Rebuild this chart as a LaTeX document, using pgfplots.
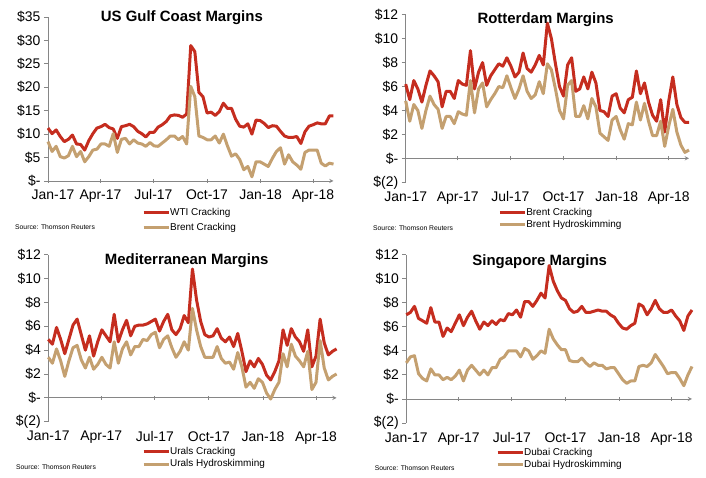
\documentclass[border=0pt]{standalone}
\usepackage{fontspec}
\setmainfont{Liberation Sans}
\usepackage{pgfplots}
\usepackage{pgfplotstable}
\pgfplotsset{compat=1.18}

\definecolor{crack}{RGB}{197,45,31}
\definecolor{skim}{RGB}{196,160,112}
\definecolor{axgray}{RGB}{134,134,134}

% weekly margins, day 0 = 1 Jan 2017
\pgfplotstableread{
day a b
0 11.3 8.4
7 10.1 6.3
14 10.9 7.4
21 9.5 5.2
28 8.4 4.9
35 8.9 5.4
42 9.8 7.4
49 7.9 5.2
56 7.8 6.3
63 6.6 4.1
70 8.6 5.2
77 10.1 6.6
84 11.3 6.8
91 11.6 7.9
98 12.1 7.9
105 11.4 7.4
112 11.1 10.1
119 9.1 6.1
126 11.6 8.9
133 11.8 9.1
140 12.1 7.9
147 11.6 8.8
154 10.6 8.1
161 10.1 7.9
168 9.4 7.4
175 10.4 8.2
182 10.4 7.5
189 11.5 7.4
196 12.0 8.1
203 12.7 8.8
210 13.9 9.6
217 14.1 9.6
224 14.0 8.8
231 13.6 9.5
238 14.3 7.9
245 28.9 20.2
252 27.6 18.0
259 18.9 9.6
266 18.0 9.3
273 14.5 8.8
280 14.7 8.8
287 14.0 9.6
294 14.8 8.1
301 16.6 10.0
308 15.5 7.5
315 15.5 5.3
322 13.2 5.8
329 11.7 4.6
336 11.5 2.4
343 12.2 3.1
350 10.0 0.9
357 13.0 4.1
364 12.9 4.1
371 12.3 3.6
378 11.4 3.1
385 11.8 4.8
392 11.7 6.3
399 10.6 7.1
406 9.6 3.6
413 9.3 5.6
420 9.3 4.1
427 9.5 3.4
434 8.0 2.5
441 10.5 6.1
448 11.7 6.6
455 12.0 6.6
462 12.4 6.6
469 12.2 3.8
476 12.2 3.2
483 13.9 3.8
490 13.9 3.6
}\gulf

\pgfplotstableread{
day a b
0 6.2 4.8
7 4.9 3.1
14 6.5 4.5
21 5.8 4.0
28 4.7 2.5
35 6.1 4.0
42 7.3 5.2
49 6.9 4.5
56 6.4 4.1
63 4.3 2.5
70 5.6 3.5
77 5.6 3.5
84 5.0 2.9
91 6.5 3.9
98 6.2 3.7
105 6.1 3.6
112 9.0 6.5
119 5.8 3.8
126 7.2 5.8
133 8.0 6.3
140 6.1 4.3
147 6.9 4.9
154 7.4 5.4
161 7.9 6.0
168 7.7 5.9
175 8.4 6.9
182 7.7 5.9
189 6.8 5.0
196 7.2 5.8
203 8.8 6.9
210 7.5 5.6
217 7.2 5.0
224 7.8 5.3
231 8.6 6.4
238 7.8 5.4
245 11.3 7.9
252 10.0 7.4
259 7.9 5.8
266 6.0 4.0
273 5.2 3.3
280 7.8 6.1
287 8.4 6.5
294 5.6 3.5
301 5.8 3.5
308 6.8 4.4
315 5.8 3.3
322 7.2 5.0
329 6.3 4.3
336 4.0 2.1
343 3.9 1.8
350 3.5 1.5
357 5.2 3.2
364 5.4 3.5
371 4.2 2.4
378 3.8 1.6
385 4.9 2.9
392 5.1 2.8
399 7.3 4.7
406 5.4 3.2
413 6.3 4.6
420 4.7 3.1
427 3.6 1.9
434 3.1 1.9
441 4.9 3.1
448 2.2 1.0
455 4.8 2.7
462 6.8 4.1
469 4.5 2.2
476 3.4 1.1
483 3.0 0.5
490 3.0 0.7
}\rotter

\pgfplotstableread{
day a b
0 4.9 3.4
7 4.5 2.9
14 5.9 4.1
21 4.9 3.1
28 3.7 1.8
35 4.9 3.1
42 6.1 4.2
49 6.6 4.4
56 5.3 3.2
63 4.0 2.5
70 5.2 3.4
77 3.5 2.4
84 4.7 2.8
91 5.7 3.4
98 5.2 2.8
105 4.7 2.5
112 7.0 4.7
119 4.7 2.9
126 5.7 4.1
133 6.5 4.7
140 5.2 3.6
147 6.0 4.3
154 6.1 4.3
161 6.1 4.9
168 6.2 4.8
175 6.4 5.3
182 6.6 5.5
189 5.6 4.2
196 6.4 4.9
203 7.0 5.2
210 5.7 4.2
217 5.3 3.4
224 5.8 3.9
231 6.9 4.7
238 6.3 4.0
245 10.8 7.5
252 8.2 5.7
259 6.4 4.3
266 5.3 3.4
273 5.1 3.4
280 5.2 3.4
287 5.8 4.3
294 5.0 3.3
301 4.7 2.9
308 5.1 3.0
315 4.3 2.4
322 5.4 3.8
329 3.9 2.6
336 2.2 0.9
343 3.1 1.3
350 2.6 0.8
357 3.3 1.6
364 2.8 1.3
371 1.9 0.4
378 1.5 -0.1
385 2.2 0.7
392 3.1 1.3
399 5.7 3.7
406 4.4 2.6
413 5.8 4.5
420 5.1 3.5
427 4.7 3.1
434 3.9 2.6
441 5.7 3.9
448 2.6 0.7
455 3.5 1.3
462 6.6 4.8
469 4.6 2.5
476 3.6 1.5
483 3.9 1.8
490 4.1 2.0
}\med

\pgfplotstableread{
day a b
0 7.0 3.0
7 7.2 3.5
14 7.7 3.6
21 6.7 2.1
28 6.5 1.7
35 6.3 1.5
42 7.6 2.5
49 6.4 2.0
56 6.4 2.0
63 5.2 1.6
70 5.9 1.8
77 5.6 1.6
84 6.3 1.9
91 7.0 2.4
98 6.1 1.5
105 6.8 2.4
112 7.3 2.8
119 6.5 2.4
126 5.8 2.0
133 6.4 2.4
140 6.1 2.0
147 6.5 2.6
154 6.2 2.6
161 6.6 3.3
168 6.5 3.5
175 7.1 4.0
182 7.0 4.0
189 7.4 4.0
196 6.8 3.5
203 8.1 4.2
210 8.1 4.0
217 7.7 3.3
224 8.2 3.6
231 8.8 4.0
238 8.4 3.8
245 11.1 5.8
252 9.8 5.0
259 9.0 4.5
266 8.4 4.1
273 8.2 4.1
280 7.5 3.2
287 7.2 3.1
294 7.3 3.1
301 7.7 3.4
308 7.2 3.0
315 7.2 2.7
322 7.3 3.0
329 7.4 2.8
336 7.3 2.8
343 7.3 2.5
350 7.0 2.6
357 6.8 2.6
364 6.3 2.1
371 5.9 1.6
378 5.8 1.3
385 6.1 1.5
392 6.3 1.5
399 7.9 2.7
406 7.7 2.8
413 7.0 2.7
420 7.5 3.0
427 8.2 3.7
434 7.5 3.2
441 7.2 2.7
448 7.2 2.1
455 7.4 2.2
462 6.9 2.2
469 6.5 1.7
476 5.7 1.1
483 6.9 2.0
490 7.4 2.7
}\sing

\pgfplotsset{
  marg/.style={
    scale only axis,
    anchor=south west,
    xmin=0, xmax=490,
    axis y line=left,
    tick align=outside,
    axis line style={axgray, line width=0.9bp, -},
    every inner x axis line/.append style={-},
    every outer x axis line/.append style={-},
    every outer y axis line/.append style={-},
    major tick style={axgray, line width=0.9bp},
    major tick length=4bp,
    hide obscured x ticks=false,
    hide obscured y ticks=false,
    xtick={0,90,181,273,365,455},
    xticklabels={Jan-17,Apr-17,Jul-17,Oct-17,Jan-18,Apr-18},
    ticklabel style={font=\fontsize{14}{16}\selectfont},
    title style={font=\bfseries\fontsize{15}{18}\selectfont, anchor=center, yshift=-8bp},
    legend style={draw=none, fill=none, anchor=north west,
      font=\fontsize{10}{12}\selectfont, inner sep=0pt,
      nodes={inner sep=0pt, text height=8pt, text depth=2.5pt}},
    legend cell align=left,
    legend image code/.code={\draw[#1] (0bp,0bp) -- (25bp,0bp);},
    every axis plot/.append style={line width=3bp, line join=round},
    clip=false,
  },
  twelve/.style={
    ymin=-2, ymax=12,
    ytick={-2,0,2,4,6,8,10,12},
    yticklabels={\$(2),\$-,\$2,\$4,\$6,\$8,\$10,\$12},
    axis x line=middle,
    xticklabel style={yshift=-28bp},
    legend style={/tikz/every even column/.style={column sep=3bp}, row sep=2bp},
  },
}

\begin{document}
\begin{tikzpicture}
\useasboundingbox (0bp,0bp) rectangle (706bp,478bp);

% US Gulf Coast
\begin{axis}[marg, at={(48bp,297bp)}, width=285.5bp, height=164bp,
    ymin=0, ymax=35, ytick={0,5,...,35},
    yticklabels={\$-,\$5,\$10,\$15,\$20,\$25,\$30,\$35},
    axis x line=bottom,
    xticklabel style={yshift=-3bp},
    xticklabels={\hspace*{10bp}Jan-17,Apr-17,Jul-17,Oct-17,Jan-18,Apr-18},
    title={US Gulf Coast Margins},
    title style={at={(axis description cs:0.469,1.006)}},
    legend style={at={(axis description cs:0.329,-0.159)}, row sep=4.5bp}]
\addplot[crack] table[x=day, y=a] {\gulf};
\addlegendentry{WTI Cracking}
\addplot[skim] table[x=day, y=b] {\gulf};
\addlegendentry{Brent Cracking}
\end{axis}

% Rotterdam
\begin{axis}[marg, twelve, at={(405.7bp,295.7bp)}, width=283.3bp, height=167.6bp,
    title={Rotterdam Margins},
    title style={at={(axis description cs:0.494,0.980)}},
    legend style={at={(axis description cs:0.326,-0.147)}}]
\addplot[crack] table[x=day, y=a] {\rotter};
\addlegendentry{Brent Cracking}
\addplot[skim] table[x=day, y=b] {\rotter};
\addlegendentry{Brent Hydroskimming}
\end{axis}

% Mediterranean
\begin{axis}[marg, twelve, at={(48.3bp,56.3bp)}, width=288.3bp, height=167bp,
    title={Mediterranean Margins},
    title style={at={(axis description cs:0.480,0.974)}},
    legend style={at={(axis description cs:0.325,-0.147)}}]
\addplot[crack] table[x=day, y=a] {\med};
\addlegendentry{Urals Cracking}
\addplot[skim] table[x=day, y=b] {\med};
\addlegendentry{Urals Hydroskimming}
\end{axis}

% Singapore
\begin{axis}[marg, twelve, at={(406.3bp,55bp)}, width=285.7bp, height=168.3bp,
    title={Singapore Margins},
    title style={at={(axis description cs:0.467,0.970)}},
    legend style={at={(axis description cs:0.314,-0.143)}}]
\addplot[crack] table[x=day, y=a] {\sing};
\addlegendentry{Dubai Cracking}
\addplot[skim] table[x=day, y=b] {\sing};
\addlegendentry{Dubai Hydroskimming}
\end{axis}

\node[anchor=west, font=\fontsize{6.8}{8}\selectfont, inner sep=0pt] at (15bp,251bp) {Source: Thomson Reuters};
\node[anchor=west, font=\fontsize{6.8}{8}\selectfont, inner sep=0pt] at (373bp,250bp) {Source: Thomson Reuters};
\node[anchor=west, font=\fontsize{6.8}{8}\selectfont, inner sep=0pt] at (16bp,11bp) {Source: Thomson Reuters};
\node[anchor=west, font=\fontsize{6.8}{8}\selectfont, inner sep=0pt] at (374.7bp,10bp) {Source: Thomson Reuters};
\end{tikzpicture}
\end{document}
